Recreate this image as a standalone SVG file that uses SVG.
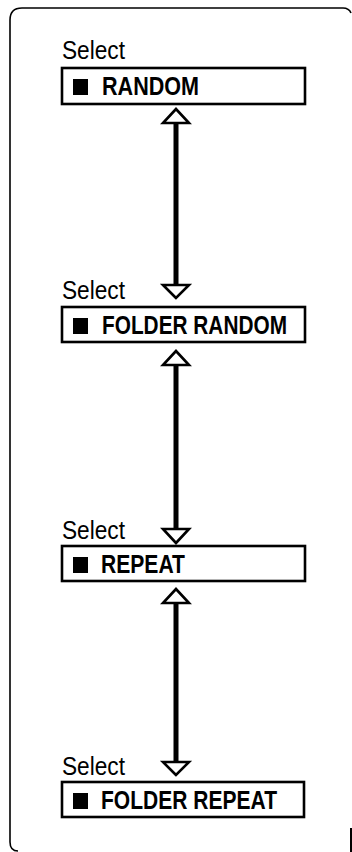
<svg xmlns="http://www.w3.org/2000/svg" width="352" height="852" viewBox="0 0 352 852">
<style>
.frame{fill:none;stroke:#000;stroke-width:1.6}
.box{fill:#fff;stroke:#000;stroke-width:2.6}
.sel{font-family:"Liberation Sans",Arial,sans-serif;font-size:25px;fill:#000}
.lbl{font-family:"Liberation Sans",Arial,sans-serif;font-size:25px;font-weight:bold;fill:#000}
.shaft{stroke:#000;stroke-width:5;fill:none}
.head{fill:#fff;stroke:#000;stroke-width:2.6;stroke-linejoin:miter}
</style>
<rect width="352" height="852" fill="#fff"/>
<path class="frame" d="M18 851 Q10 851 10 842 L10 20 Q10 8 22 8 L343 8 Q349 8 351 13"/>
<rect x="350" y="828" width="2" height="24" fill="#000"/>
<g id="connectors">
  <g id="arrow1">
    <line class="shaft" x1="176" y1="122" x2="176" y2="286"/>
    <polygon class="head" points="176,109 163,123 189,123"/>
    <polygon class="head" points="176,298 163,285 189,285"/>
  </g>
  <g id="arrow2">
    <line class="shaft" x1="176" y1="364" x2="176" y2="530"/>
    <polygon class="head" points="176,351 163,365 189,365"/>
    <polygon class="head" points="176,543 163,529 189,529"/>
  </g>
  <g id="arrow3">
    <line class="shaft" x1="176" y1="602" x2="176" y2="763"/>
    <polygon class="head" points="176,589 163,603 189,603"/>
    <polygon class="head" points="176,775 163,762 189,762"/>
  </g>
</g>
<g id="node-random">
  <text class="sel" x="62" y="59" textLength="63" lengthAdjust="spacingAndGlyphs">Select</text>
  <rect class="box" x="62" y="68" width="243" height="36"/>
  <rect x="73" y="79" width="15" height="16" fill="#000"/>
  <text class="lbl" x="102" y="95" textLength="97" lengthAdjust="spacingAndGlyphs">RANDOM</text>
</g>
<g id="node-folder-random">
  <text class="sel" x="62" y="299" textLength="63" lengthAdjust="spacingAndGlyphs">Select</text>
  <rect class="box" x="62" y="307" width="243" height="35"/>
  <rect x="73" y="318" width="15" height="16" fill="#000"/>
  <text class="lbl" x="102" y="334" textLength="185" lengthAdjust="spacingAndGlyphs">FOLDER RANDOM</text>
</g>
<g id="node-repeat">
  <text class="sel" x="62" y="539" textLength="63" lengthAdjust="spacingAndGlyphs">Select</text>
  <rect class="box" x="62" y="546" width="243" height="35"/>
  <rect x="73" y="557" width="15" height="16" fill="#000"/>
  <text class="lbl" x="101" y="573" textLength="84" lengthAdjust="spacingAndGlyphs">REPEAT</text>
</g>
<g id="node-folder-repeat">
  <text class="sel" x="62" y="775" textLength="63" lengthAdjust="spacingAndGlyphs">Select</text>
  <rect class="box" x="62" y="782" width="242" height="35"/>
  <rect x="73" y="793" width="15" height="16" fill="#000"/>
  <text class="lbl" x="101" y="809" textLength="176" lengthAdjust="spacingAndGlyphs">FOLDER REPEAT</text>
</g>
</svg>
